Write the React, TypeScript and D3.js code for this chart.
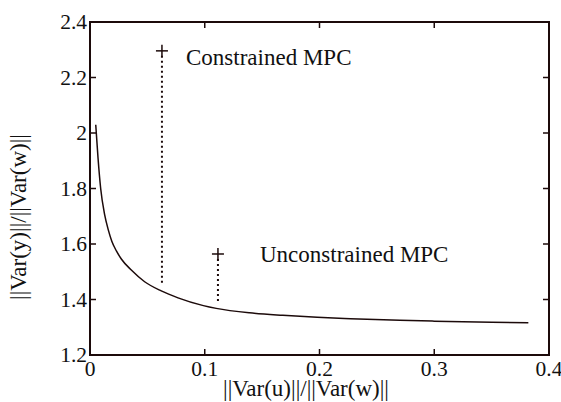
import React from "react";
import * as d3 from "d3";

const curveX = [0.005, 0.007, 0.0093, 0.0128, 0.016, 0.019, 0.023, 0.0273, 0.036, 0.0476, 0.0621, 0.0767, 0.0988, 0.11, 0.139, 0.168, 0.198, 0.227, 0.27, 0.3, 0.35, 0.382];
const curveY = [2.03, 1.91, 1.8, 1.705, 1.65, 1.61, 1.575, 1.546, 1.506, 1.464, 1.431, 1.406, 1.378, 1.368, 1.352, 1.343, 1.336, 1.331, 1.325, 1.322, 1.318, 1.316];

const markerNames = ["Constrained MPC", "Unconstrained MPC"];
const markerX = [0.0627, 0.1115];
const markerY = [2.296, 1.564];
const stemBottom = [1.45, 1.392];

const xTicks = [0, 0.1, 0.2, 0.3, 0.4];
const yTicks = [1.2, 1.4, 1.6, 1.8, 2, 2.2, 2.4];

const W = 561, H = 402;
const L = 90, R = 549, T = 22, B = 355;
const INK = "#1c0a0a";
const FONT = "Liberation Serif";
const ts = { fontFamily: FONT };

export default function App() {
  const x = d3.scaleLinear().domain([0, 0.4]).range([L, R]);
  const y = d3.scaleLinear().domain([1.2, 2.4]).range([B, T]);
  const line = d3.line<number>().x((_, i) => x(curveX[i])).y((d) => y(d)).curve(d3.curveMonotoneX);
  const tl = 6;
  return (
    <svg width={W} height={H} style={{ position: "absolute", left: 0, top: 0, background: "#fff", fontFamily: FONT }}>
      {xTicks.map((t, i) => (
        <g key={"xt" + i}>
          <line x1={x(t)} x2={x(t)} y1={B} y2={B - tl} stroke={INK} strokeWidth={1.5} />
          <line x1={x(t)} x2={x(t)} y1={T} y2={T + tl} stroke={INK} strokeWidth={1.5} />
          <text x={x(t)} y={376} textAnchor="middle" fontSize={21.5} fill="#111" style={ts}>{String(t)}</text>
        </g>
      ))}
      {yTicks.map((t, i) => (
        <g key={"yt" + i}>
          <line x1={L} x2={L + tl} y1={y(t)} y2={y(t)} stroke={INK} strokeWidth={1.5} />
          <line x1={R} x2={R - tl} y1={y(t)} y2={y(t)} stroke={INK} strokeWidth={1.5} />
          <text x={87} y={y(t) + 7} textAnchor="end" fontSize={21.5} fill="#111" style={ts}>{String(t)}</text>
        </g>
      ))}
      <rect x={L} y={T} width={R - L} height={B - T} fill="none" stroke={INK} strokeWidth={2} />
      <path d={line(curveY) || ""} fill="none" stroke={INK} strokeWidth={1.5} />
      {markerNames.map((n, i) => {
        const mx = x(markerX[i]);
        const my = y(markerY[i]);
        return (
          <g key={n}>
            <line x1={mx} x2={mx} y1={my + 5} y2={y(stemBottom[i])} stroke={INK} strokeWidth={2} strokeDasharray="2,3" />
            <line x1={mx - 6} x2={mx + 6} y1={my} y2={my} stroke={INK} strokeWidth={1.5} />
            <line x1={mx} x2={mx} y1={my - 6} y2={my + 6} stroke={INK} strokeWidth={1.5} />
            <text x={i === 0 ? 186 : 260} y={i === 0 ? 65 : 262} fontSize={23} fill="#111" style={ts}>{n}</text>
          </g>
        );
      })}
      <text x={306} y={396} textAnchor="middle" fontSize={23} fill="#111" style={ts}>||Var(u)||/||Var(w)||</text>
      <text transform="translate(26,217) rotate(-90)" textAnchor="middle" fontSize={23} fill="#111" style={ts}>||Var(y)||/||Var(w)||</text>
    </svg>
  );
}
